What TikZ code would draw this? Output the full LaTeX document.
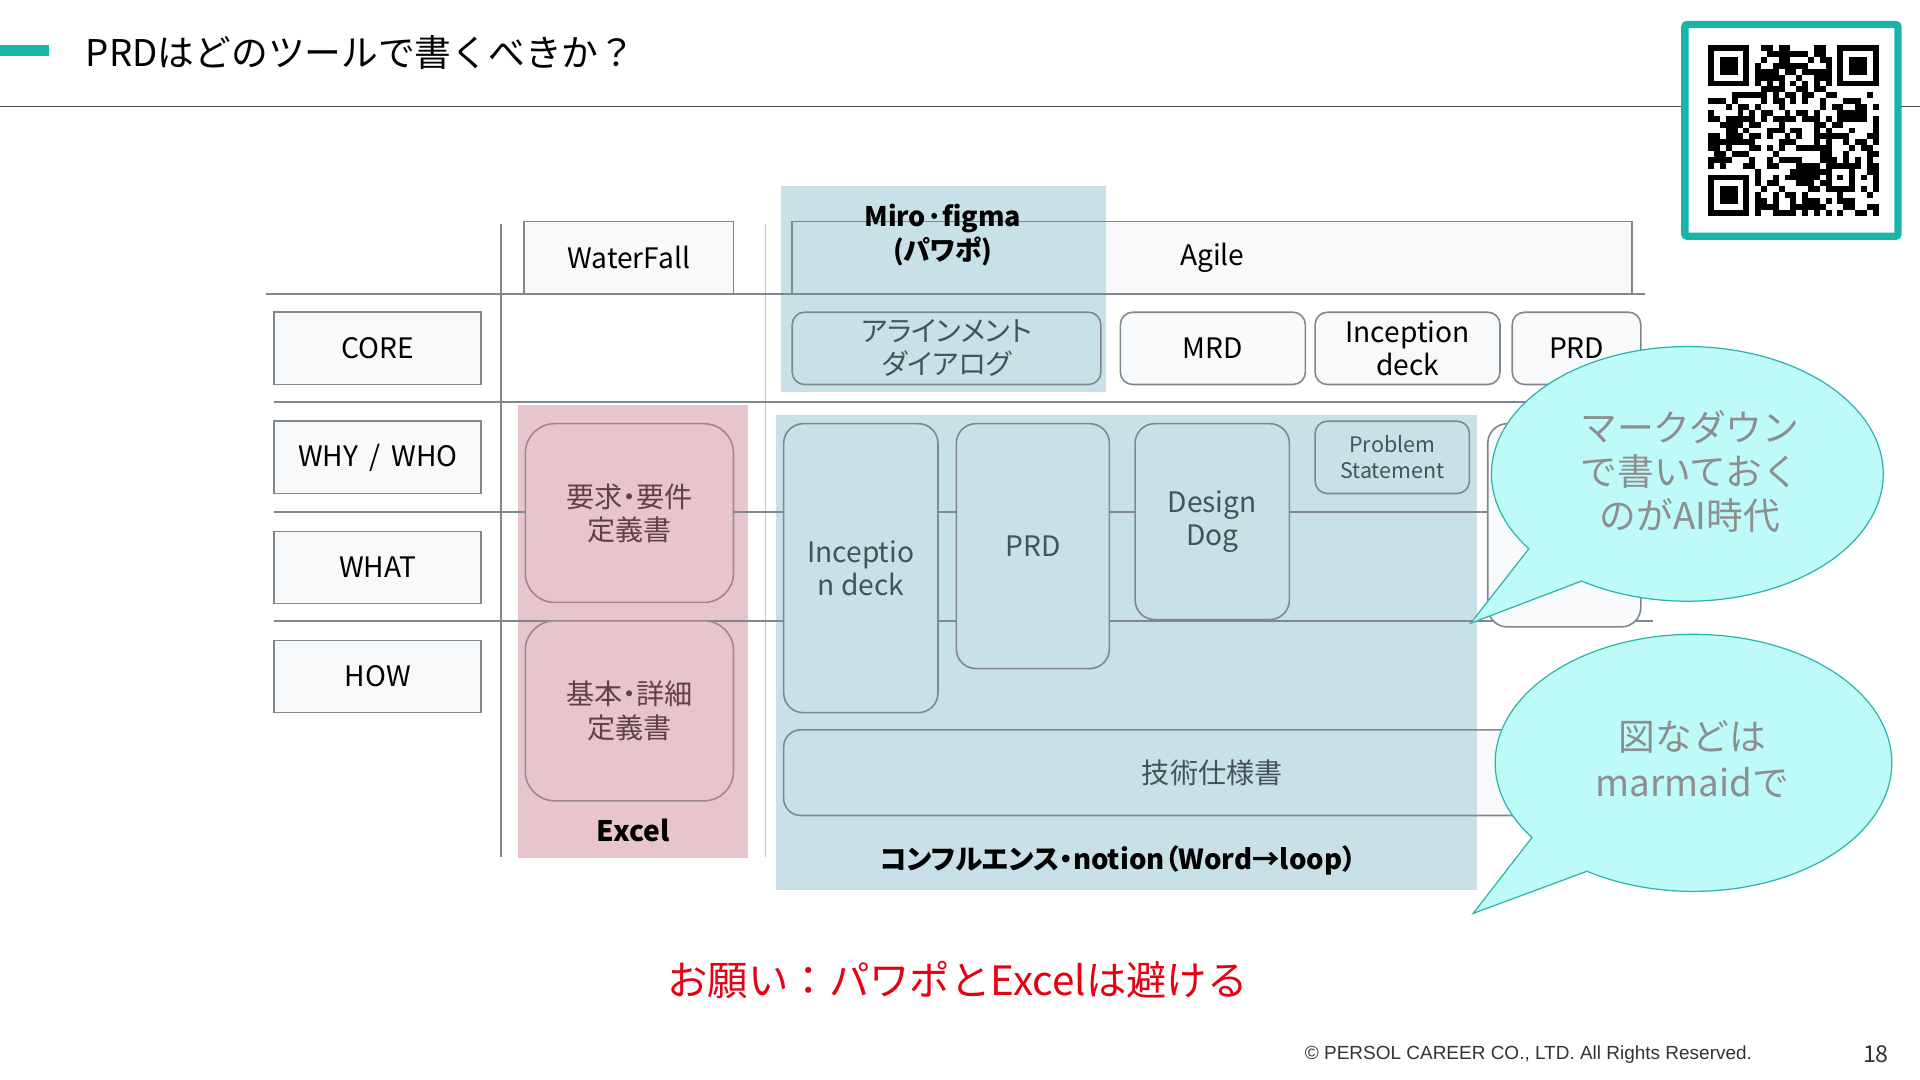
\documentclass[tikz,border=0pt]{standalone}
\usepackage{fontspec}
\setmainfont{Noto Sans CJK JP}
\newfontfamily\dfont{Noto Sans CJK JP}[RawFeature=+palt]
\newfontfamily\arialf{Liberation Sans}
\definecolor{teal1}{HTML}{1AB5A9}
\definecolor{gridg}{HTML}{80878D}
\definecolor{lightg}{HTML}{C4C8CB}
\definecolor{boxf}{HTML}{F8F9FA}
\definecolor{blueR}{HTML}{C8E1E9}
\definecolor{pinkR}{HTML}{E8C5CC}
\definecolor{pinkB}{HTML}{9C8890}
\definecolor{bubF}{HTML}{BEFBF8}
\definecolor{bubB}{HTML}{2BB5AA}
\definecolor{bubT}{HTML}{8E8E8E}
\definecolor{redT}{HTML}{E50012}
\definecolor{inT}{HTML}{46525A}
\definecolor{pinkT}{HTML}{5E4149}
\newcommand\fsz[2]{\fontsize{#1}{#2}\selectfont}
\tikzset{
  lab/.style={draw=gridg, line width=1.3pt, fill=boxf, minimum width=169, minimum height=59, inner sep=0pt, font=\dfont\fsz{23}{27}, align=center},
  rbox/.style={draw=gridg, line width=1.3pt, fill=boxf, rounded corners=10pt, minimum height=59, inner sep=0pt, font=\dfont\fsz{23}{27}, align=center},
  tbox/.style={draw=gridg, line width=1.3pt, fill=blueR, rounded corners=16pt, inner sep=0pt, text=inT, font=\dfont\fsz{23}{27}, align=center},
  pbox/.style={draw=pinkB, line width=1.3pt, fill=pinkR, rounded corners=24pt, minimum width=170, minimum height=146, inner sep=0pt, text=pinkT, font=\dfont\fsz{23}{27}, align=center},
  gline/.style={draw=gridg, line width=1.5pt},
  bubble/.style={draw=bubB, line width=1pt, fill=bubF},
  btext/.style={text=bubT, align=center, inner sep=0pt},
}
\begin{document}
\begin{tikzpicture}[x=1pt,y=-1pt]
\fill[white] (0,0) rectangle (1568,882);
\useasboundingbox (0,0) rectangle (1568,882);

% title
\fill[teal1] (0,37) rectangle (40,46);
\node[anchor=west, font=\fsz{30}{34}, inner sep=0pt] (title) at (70,43) {PRDはどのツールで書くべきか？};
\draw[draw=black!70, line width=1.3pt] (0,87) -- (1568,87);

% QR
\node[draw=teal1, line width=6pt, fill=white, minimum width=174, minimum height=173, rounded corners=2pt] (qrbox) at (1463,106.5) {};
\pgfmathsetseed{31415}
\foreach \i in {0,...,28}{%
  \foreach \j in {0,...,28}{%
    \pgfmathtruncatemacro{\qsk}{ifthenelse((\i<8 && \j<8) || (\i>20 && \j<8) || (\i<8 && \j>20) || (\i>19 && \i<25 && \j>19 && \j<25),1,0)}%
    \pgfmathtruncatemacro{\qtim}{ifthenelse(\i==6 || \j==6,1,0)}%
    \pgfmathtruncatemacro{\qon}{ifthenelse(rnd<0.5,1,0)}%
    \ifnum\qsk=0
      \ifnum\qtim=1
        \pgfmathtruncatemacro{\qon}{ifthenelse(mod(\i+\j,2)==0,1,0)}%
      \fi
      \ifnum\qon=1 \fill ({1395+\i*4.8},{37+\j*4.8}) rectangle ++(4.8,4.8); \fi
    \fi
  }
}
\foreach \a/\b in {0/0,22/0,0/22}{%
  \fill ({1395+\a*4.8},{37+\b*4.8}) rectangle ++(33.6,33.6);
  \fill[white] ({1395+\a*4.8+4.8},{37+\b*4.8+4.8}) rectangle ++(24,24);
  \fill ({1395+\a*4.8+9.6},{37+\b*4.8+9.6}) rectangle ++(14.4,14.4);
}
\fill ({1395+20*4.8},{37+20*4.8}) rectangle ++(24,24);
\fill[white] ({1395+21*4.8},{37+21*4.8}) rectangle ++(14.4,14.4);
\fill ({1395+22*4.8},{37+22*4.8}) rectangle ++(4.8,4.8);

% pre-fills
\fill[boxf] (647,181) rectangle (1333,240);
\fill[boxf, rounded corners=14pt] (640,596) rectangle (1340,666);

% regions
\fill[pinkR] (423,331) rectangle (611,701);
\fill[blueR] (638,152) rectangle (903,320);
\fill[blueR] (634,339) rectangle (1206,727);

% grid lines
\draw[gline] (409,183) -- (409,700);
\draw[draw=lightg, line width=1.2pt] (625,183) -- (625,700);
\draw[gline] (217,240) -- (1343,240);
\draw[gline] (224,328) -- (1343,328);
\draw[gline] (224,418) -- (1215,418);
\draw[gline] (224,507) -- (1350,507);

% row labels
\node[lab] (core) at (308.5,284.5) {CORE};
\node[lab] (why) at (308.5,373.5) {WHY \,/\, WHO};
\node[lab] (what) at (308.5,463.5) {WHAT};
\node[lab] (how) at (308.5,552.5) {HOW};

% column headers
\node[lab, minimum width=171] (wf) at (513.5,210.5) {WaterFall};
\node[draw=gridg, line width=1.3pt, minimum width=686, minimum height=59, inner sep=0pt, font=\dfont\fsz{23}{27}] (agile) at (990,210.5) {Agile};
\node[align=center, font=\dfont\bfseries\fsz{22}{28}, inner sep=0pt] (miro) at (770,192) {Miro·figma\\(パワポ)};

% core row
\node[rbox, fill=blueR, text=inT, minimum width=252] (align) at (773,284.5) {アラインメント\\ダイアログ};
\node[rbox, minimum width=151] (mrd) at (990.5,284.5) {MRD};
\node[rbox, minimum width=151] (incc) at (1149.5,284.5) {Inception\\deck};
\node[rbox, minimum width=105] (prdc) at (1287.5,284.5) {PRD};

% waterfall docs
\node[pbox] (req) at (514,419) {要求・要件\\定義書};
\node[pbox, minimum height=147] (bas) at (514,580.5) {基本・詳細\\定義書};
\node[font=\dfont\bfseries\fsz{23}{27}, inner sep=0pt] (excel) at (517,678) {Excel};

% agile docs
\node[tbox, minimum width=126, minimum height=236] (incd) at (703,464) {Inceptio\\n deck};
\node[tbox, minimum width=125, minimum height=200] (prdt) at (843.5,446) {PRD};
\node[tbox, minimum width=126, minimum height=160] (dd) at (990,426) {Design\\Dog};
\node[tbox, rounded corners=10pt, minimum width=126, minimum height=59, font=\dfont\fsz{17.5}{21}] (ps) at (1137,373.5) {Problem\\Statement};
\node[draw=gridg, line width=1.3pt, fill=boxf, rounded corners=16pt, minimum width=125, minimum height=166, inner sep=0pt] (rbx) at (1277.5,429) {};
\node[draw=gridg, line width=1.3pt, rounded corners=14pt, minimum width=700, minimum height=70, inner sep=0pt, text=inT, font=\dfont\fsz{23}{27}] (spec) at (990,631) {技術仕様書};
\node[font=\dfont\bfseries\fsz{22.5}{27}, inner sep=0pt] (conf) at (913,703) {コンフルエンス・notion（Word→loop）};

% bubbles
\draw[bubble] plot[domain=144:482.7, samples=120] ({1378+160*cos(\x)},{387+104*sin(\x)}) -- (1201,509) -- cycle;
\node[btext, font=\fsz{30}{36}] (b1) at (1380,385) {マークダウン\\で書いておく\\のがAI時代};
\draw[bubble] plot[domain=144.5:482.5, samples=120] ({1383+162*cos(\x)},{623+105*sin(\x)}) -- (1203,746) -- cycle;
\node[btext, font=\fsz{30}{37}] (b2) at (1382,620) {図などは\\marmaidで};

% bottom
\node[text=redT, font=\fsz{33}{37}, inner sep=0pt] (ask) at (782,800) {お願い：パワポとExcelは避ける};
\node[font=\arialf\fsz{15.5}{18}, text=black!80, anchor=east, inner sep=0pt] (copy) at (1431,861) {© PERSOL CAREER CO., LTD. All Rights Reserved.};
\node[font=\fsz{19}{21}, text=black!80, inner sep=0pt] (pg) at (1532,861) {18};
\end{tikzpicture}
\end{document}
